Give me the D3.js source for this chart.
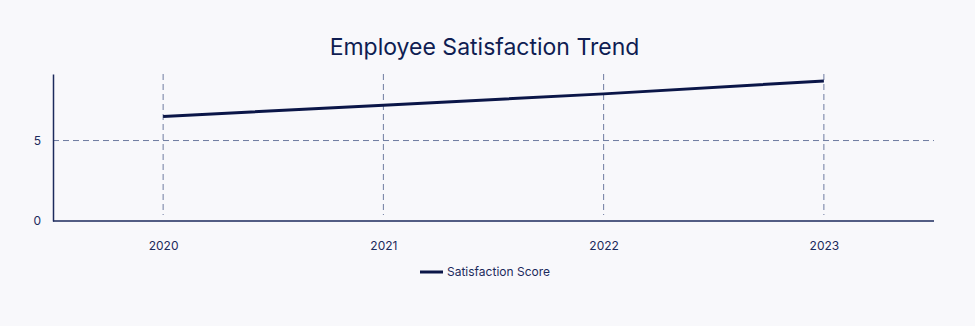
<!DOCTYPE html>
<html>
<head>
<meta charset="utf-8">
<script src="https://cdn.jsdelivr.net/npm/d3@7"></script>
<style>
  html, body { margin: 0; padding: 0; background: #f8f8fb; }
  svg { display: block; font-family: Inter, "Noto Sans", sans-serif; }
</style>
</head>
<body>
<div id="chart"></div>
<script>
const title = "Employee Satisfaction Trend";
const years = ["2020", "2021", "2022", "2023"];
const scores = [6.5, 7.2, 7.9, 8.7];
const yTicks = [0, 5];
const seriesName = "Satisfaction Score";

const W = 975, H = 326;
const margin = { top: 74, right: 41, bottom: 105, left: 53 };
const innerW = W - margin.left - margin.right;
const innerH = H - margin.top - margin.bottom;

const svg = d3.select("#chart").append("svg")
  .attr("width", W).attr("height", H);
svg.append("rect").attr("width", W).attr("height", H).attr("fill", "#f8f8fb");

const x = d3.scalePoint().domain(years).range([margin.left, margin.left + innerW]).padding(0.5);
const y = d3.scaleLinear().domain([0, d3.max(scores) * 1.05]).range([margin.top + innerH, margin.top]);

const gridColor = "#6e7ba0";
const ink = "#1c2a5c";

// vertical gridlines
svg.append("g").selectAll("line").data(years).join("line")
  .attr("x1", d => x(d)).attr("x2", d => x(d))
  .attr("y1", margin.top).attr("y2", margin.top + innerH - 6)
  .attr("stroke", gridColor).attr("stroke-width", 1).attr("stroke-dasharray", "6,4");

// horizontal gridlines
svg.append("g").selectAll("line").data(yTicks.filter(t => t > 0)).join("line")
  .attr("x1", margin.left).attr("x2", margin.left + innerW)
  .attr("y1", d => y(d)).attr("y2", d => y(d))
  .attr("stroke", gridColor).attr("stroke-width", 1).attr("stroke-dasharray", "6,4");

// y axis
const yAxis = svg.append("g").attr("transform", `translate(${margin.left},0)`)
  .call(d3.axisLeft(y).tickValues(yTicks).tickSize(0).tickPadding(12).tickFormat(d3.format("d")));
yAxis.select(".domain").attr("stroke", ink).attr("stroke-width", 1.5);
yAxis.selectAll("text").attr("fill", ink).attr("font-size", 12).attr("font-family", "Inter, sans-serif");

// x axis
const xAxis = svg.append("g").attr("transform", `translate(0,${margin.top + innerH})`)
  .call(d3.axisBottom(x).tickSize(0).tickPadding(20));
xAxis.select(".domain").attr("stroke", ink).attr("stroke-width", 1.5)
  .attr("d", `M${margin.left},0H${margin.left + innerW}`);
xAxis.selectAll("text").attr("fill", ink).attr("font-size", 12).attr("font-family", "Inter, sans-serif");

// line
const line = d3.line().x((d, i) => x(years[i])).y(d => y(d));
svg.append("path").datum(scores)
  .attr("d", line).attr("fill", "none")
  .attr("stroke", "#0b1648").attr("stroke-width", 3);

// title
svg.append("text").attr("x", (margin.left + margin.left + innerW) / 2 - 9).attr("y", 55)
  .attr("text-anchor", "middle").attr("font-size", 23).attr("fill", "#0f1d52")
  .attr("font-family", "Inter, sans-serif")
  .text(title);

// legend
const lg = svg.append("g").attr("transform", "translate(420,272)");
lg.append("line").attr("x1", 0).attr("x2", 23).attr("y1", 0).attr("y2", 0)
  .attr("stroke", "#0b1648").attr("stroke-width", 3);
lg.append("text").attr("x", 27).attr("y", 0).attr("dy", "0.35em")
  .attr("font-size", 12).attr("fill", ink).attr("font-family", "Inter, sans-serif")
  .text(seriesName);
</script>
</body>
</html>
